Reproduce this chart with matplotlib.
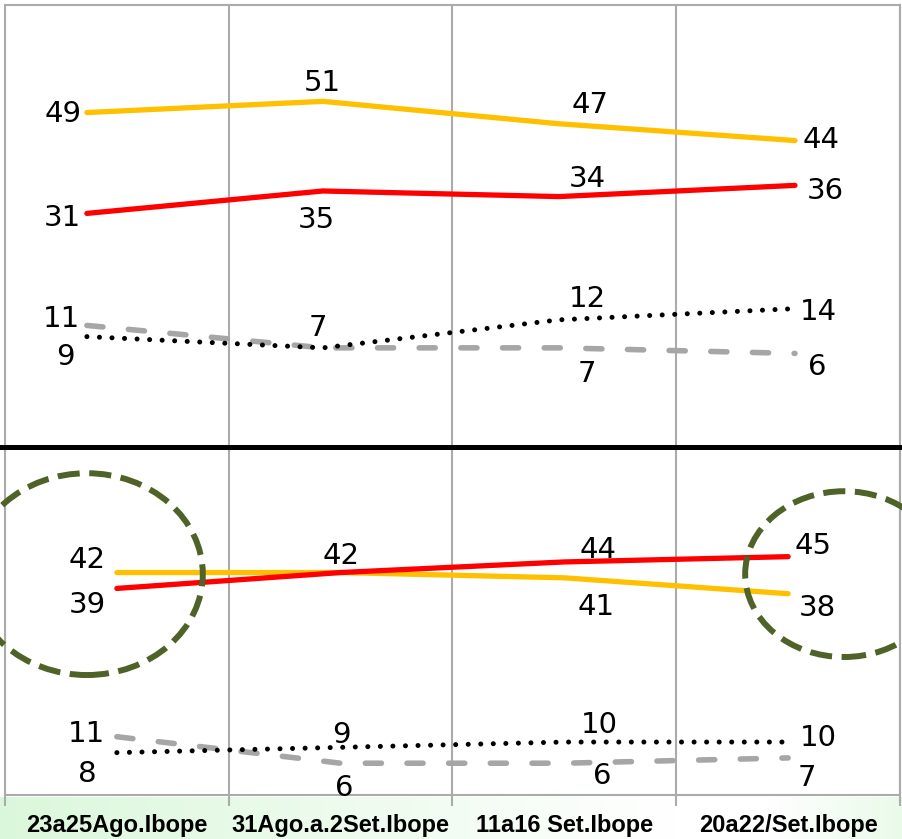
import matplotlib.pyplot as plt
import numpy as np
from matplotlib.patches import Ellipse
from matplotlib.lines import Line2D

categories = ['23a25Ago.Ibope', '31Ago.a.2Set.Ibope', '11a16 Set.Ibope', '20a22/Set.Ibope']

# upper block
top_yellow = [49, 51, 47, 44]
top_red = [31, 35, 34, 36]
top_gray = [11, 7, 7, 6]
top_dotted = [9, 7, 12, 14]

# lower block
bot_yellow = [42, 42, 41, 38]
bot_red = [39, 42, 44, 45]
bot_gray = [11, 6, 6, 7]
bot_dotted = [8, 9, 10, 10]

YELLOW = '#FFC000'
RED = '#FF0000'
GRAY = '#A6A6A6'
GRID = '#ABABAB'
OLIVE = '#4F6228'

W, H = 903, 839


def box(x0, y0, x1, y1):
    # pixel box (y measured from the top) -> figure fraction
    return [x0 / W, 1 - y1 / H, (x1 - x0) / W, (y1 - y0) / H]


def draw_block(ax, yel, red, gray, dot, offsets):
    x = np.arange(len(yel))
    ax.plot(x, yel, color=YELLOW, lw=3.8, solid_capstyle='round', zorder=3)
    ax.plot(x, red, color=RED, lw=3.8, solid_capstyle='round', zorder=4)
    ax.plot(x, gray, color=GRAY, lw=4, ls=(0, (2.9, 4.6)),
            dash_capstyle='round', zorder=5)
    ax.plot(x, dot, color='black', lw=3.6, ls=(0, (0.01, 2.5)),
            dash_capstyle='round', zorder=6)
    for series, offs in zip([yel, red, gray, dot], offsets):
        for i, (v, o) in enumerate(zip(series, offs)):
            if o is None:
                continue
            ax.annotate(str(v), (i, v), xytext=(o[0], o[1] - 10.5),
                        textcoords='offset pixels', ha='center', va='baseline',
                        fontsize=21, family='DejaVu Sans', color='black',
                        zorder=7)


fig = plt.figure(figsize=(W / 100, H / 100), dpi=100)

# light green strip behind the category labels
ax_bg = fig.add_axes(box(0, 797, W, H))
t = np.linspace(0, 1, 300)
fade = np.clip(1 - t / 0.75, 0, 1) + np.clip((t - 0.85) / 0.15, 0, 1) * 0.6
green = np.array([0.86, 0.97, 0.86])
row = 1 - np.outer(fade, 1 - green)
ax_bg.imshow(row[np.newaxis, :, :], aspect='auto', extent=(0, 1, 0, 1))
ax_bg.axis('off')

# frame with the vertical separators and category labels
ax_f = fig.add_axes(box(5, 5, 900, 795))
ax_f.set_facecolor('none')
ax_f.set_xlim(0, 4)
ax_f.set_ylim(0, 1)
ax_f.set_yticks([])
ax_f.set_xticks(range(5))
ax_f.set_xticklabels([])
ax_f.set_xticks(np.arange(4) + 0.5, minor=True)
ax_f.set_xticklabels(categories, minor=True, fontsize=17, fontweight='bold',
                     family=['Liberation Sans', 'DejaVu Sans'])
ax_f.tick_params(axis='x', which='major', direction='out', length=8,
                 width=1.5, color=GRID)
ax_f.tick_params(axis='x', which='minor', length=0, pad=13.4)
ax_f.xaxis.grid(True, which='major', color=GRID, lw=1.5)
for s in ax_f.spines.values():
    s.set_color(GRID)
    s.set_linewidth(1.5)

# upper block data
ax_t = fig.add_axes(box(5, 5, 900, 447))
ax_t.set_facecolor('none')
ax_t.set_xlim(-0.347, 3.445)
ax_t.set_ylim(-10.7, 68.2)
ax_t.axis('off')
top_offsets = [
    [(-24, 1), (-1, 21), (31, 21), (26, 3)],
    [(-25, -2), (-7, -27), (28, 20), (30, -3)],
    [(-25, 9), None, (28, -24), (22, -11)],
    [(-22, -18), (-5, 22), (28, 23), (23, -1)],
]
draw_block(ax_t, top_yellow, top_red, top_gray, top_dotted, top_offsets)

# lower block data
ax_b = fig.add_axes(box(5, 447, 900, 795))
ax_b.set_facecolor('none')
ax_b.set_xlim(-0.5, 3.5)
ax_b.set_ylim(0, 65.7)
ax_b.axis('off')
bot_offsets = [
    [(-30, 15), (0, 19), (32, -27), (29, -12)],
    [(-30, -14), None, (34, 14), (25, 13)],
    [(-30, 5), (4, -22), (38, -10), (19, -18)],
    [(-30, -19), (1, 15), (35, 20), (30, 7)],
]
draw_block(ax_b, bot_yellow, bot_red, bot_gray, bot_dotted, bot_offsets)

# dashed highlight circles around the first and last readings
for cx, w, h in [(-0.134, 1.036, 38.1), (3.25, 0.884, 31.3)]:
    ax_b.add_patch(Ellipse((cx, 41.7), w, h, fill=False, ec=OLIVE, lw=4.3,
                           ls=(0, (3.7, 1.6)), clip_on=False, zorder=8))

# thick black divider between the two blocks
fig.add_artist(Line2D([0, 1], [1 - 447 / H] * 2, color='black', lw=3.6))

fig.savefig('out.png', dpi=100)
